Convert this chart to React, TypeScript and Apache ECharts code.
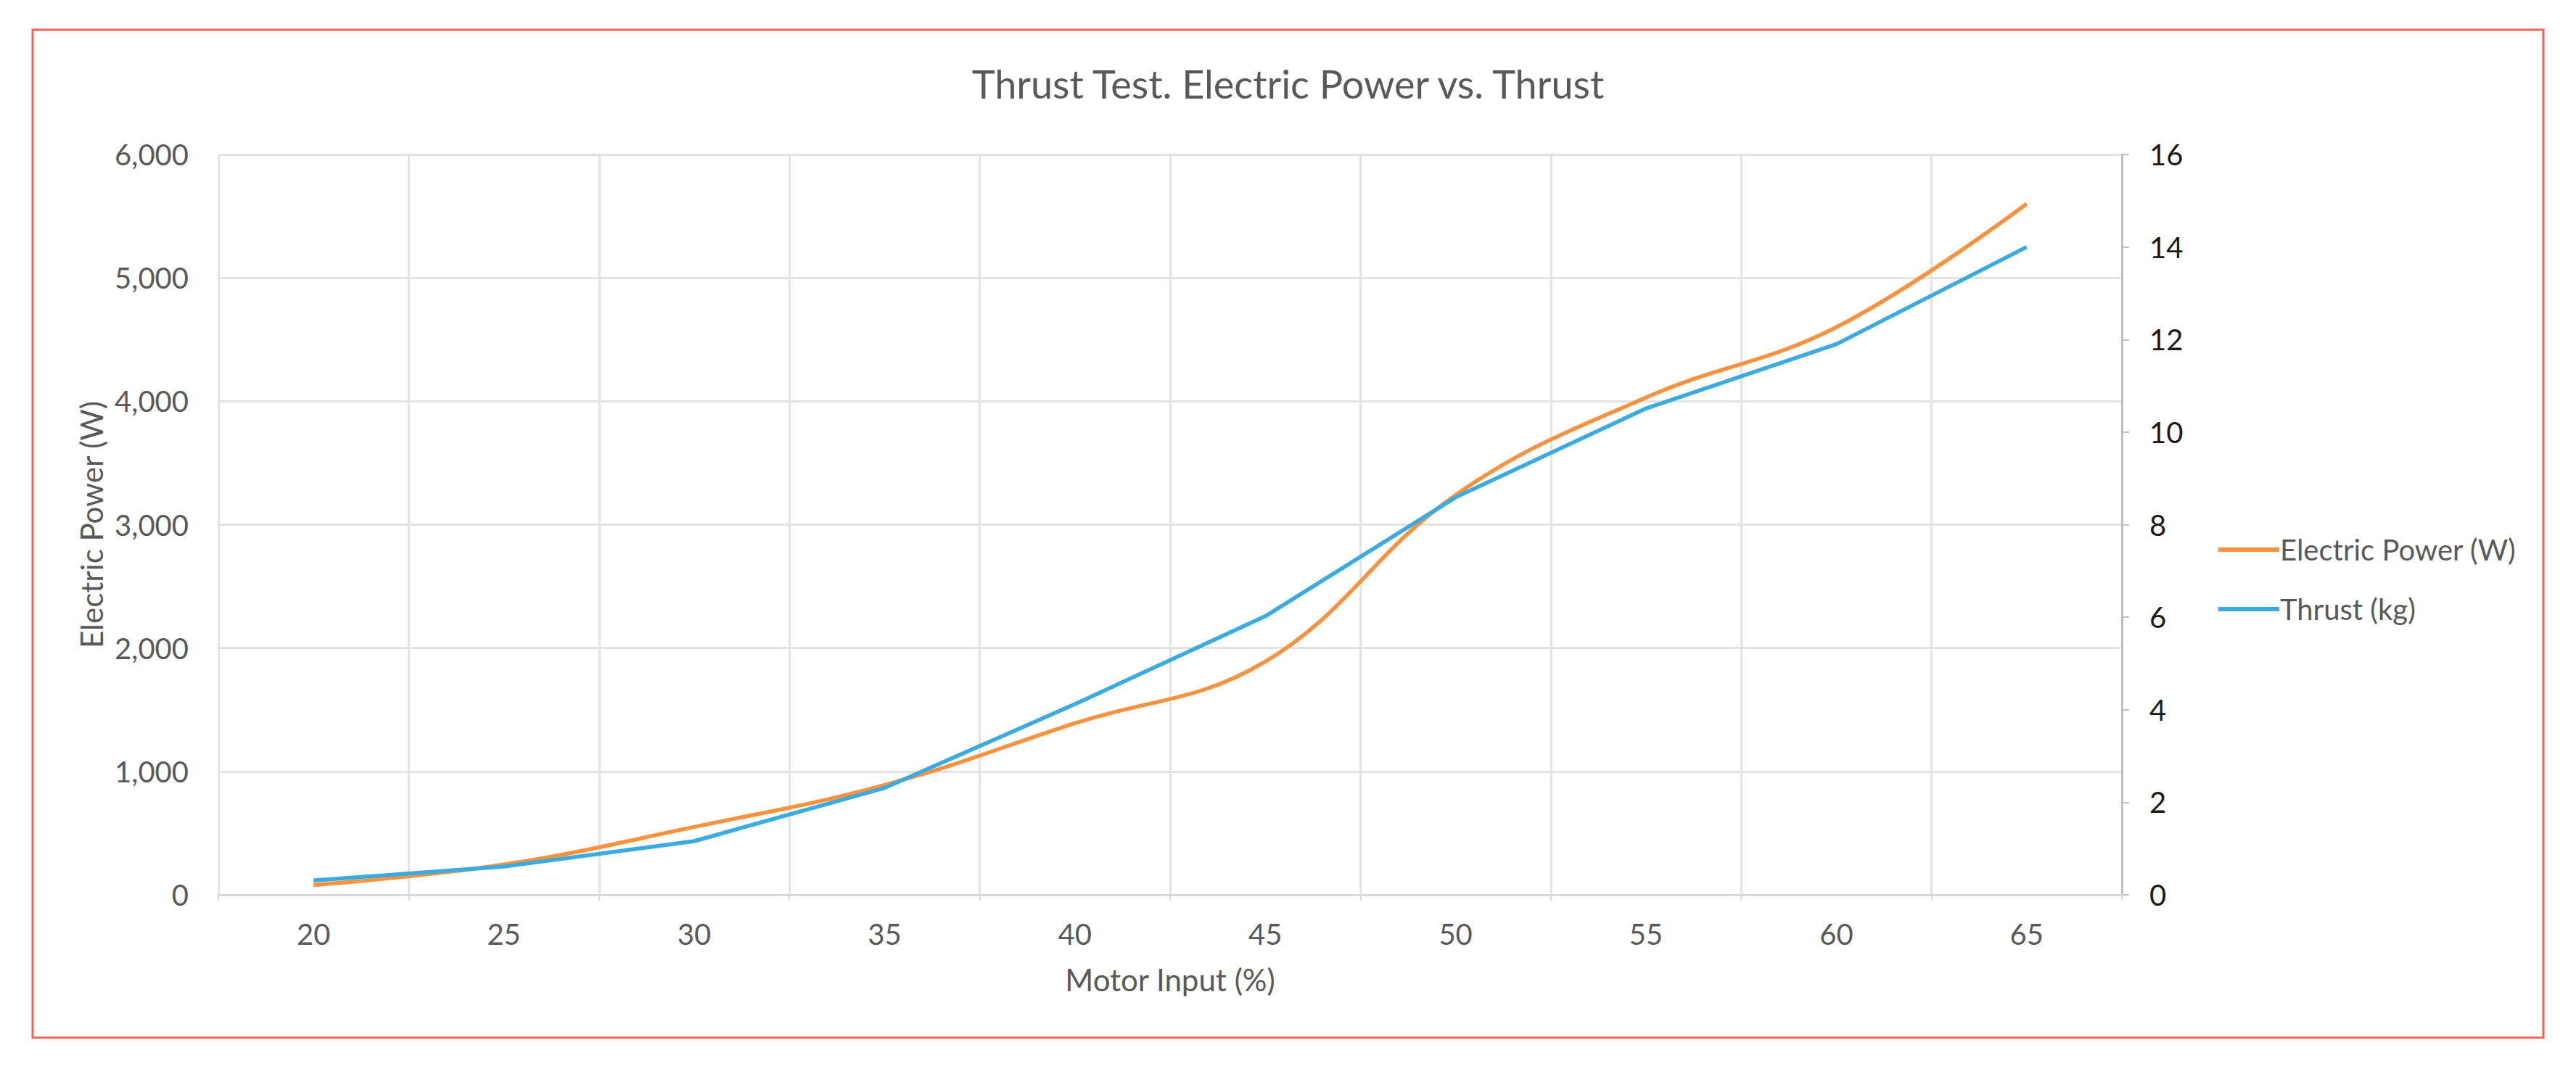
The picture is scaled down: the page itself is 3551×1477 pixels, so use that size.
import React, { useEffect, useRef } from "react";
import * as echarts from "echarts";

const categories = ["20", "25", "30", "35", "40", "45", "50", "55", "60", "65"];
const powerW = [80, 245, 550, 890, 1390, 1890, 3240, 4030, 4600, 5600];
const thrustKg = [0.31, 0.61, 1.16, 2.31, 4.12, 6.02, 8.59, 10.51, 11.9, 14.0];

const FONT = "Lato, 'Open Sans', sans-serif";
const GREY = "#595959";
const ORANGE = "#F8923F";
const BLUE = "#3AABE0";

export default function App() {
  const ref = useRef<HTMLDivElement>(null);
  useEffect(() => {
    if (!ref.current) return;
    const chart = echarts.init(ref.current, undefined, { renderer: "svg" });
    chart.setOption({
      animation: false,
      backgroundColor: "#ffffff",
      textStyle: { fontFamily: FONT },
      title: {
        text: "Thrust Test. Electric Power vs. Thrust",
        left: "center",
        top: 83,
        textStyle: { fontFamily: FONT, fontSize: 54, fontWeight: "normal", color: GREY },
      },
      graphic: [
        {
          type: "rect",
          shape: { x: 45, y: 41, width: 3461, height: 1390 },
          style: { fill: "none", stroke: "#F5614E", lineWidth: 3 },
          silent: true,
        },
      ],
      legend: {
        orient: "vertical",
        left: 3053,
        top: 733,
        icon: "rect",
        itemWidth: 84,
        itemHeight: 6,
        itemGap: 42,
        textStyle: { fontFamily: FONT, fontSize: 40, color: GREY, lineHeight: 40, padding: [0, 0, 0, -4] },
        data: ["Electric Power (W)", "Thrust (kg)"],
      },
      grid: { left: 301, right: 626, top: 213, bottom: 243, containLabel: false },
      xAxis: {
        type: "category",
        data: categories,
        boundaryGap: true,
        axisLine: { show: true, lineStyle: { color: "#d9d9d9", width: 3 } },
        axisTick: { show: true, length: 8, lineStyle: { color: "#d9d9d9", width: 2 } },
        splitLine: { show: true, lineStyle: { color: "#e3e3e3", width: 3 } },
        axisLabel: { fontFamily: FONT, fontSize: 40, color: GREY, margin: 34 },
        name: "Motor Input (%)",
        nameLocation: "middle",
        nameGap: 96,
        nameTextStyle: { fontFamily: FONT, fontSize: 42, color: GREY },
      },
      yAxis: [
        {
          type: "value",
          min: 0,
          max: 6000,
          interval: 1000,
          position: "left",
          axisLine: { show: false },
          axisTick: { show: false },
          splitLine: { show: true, lineStyle: { color: "#e3e3e3", width: 3 } },
          axisLabel: {
            fontFamily: FONT,
            fontSize: 40,
            color: GREY,
            margin: 41,
            formatter: (v: number) => v.toLocaleString("en-US"),
          },
          name: "Electric Power (W)",
          nameLocation: "middle",
          nameRotate: 90,
          nameGap: 148,
          nameTextStyle: { fontFamily: FONT, fontSize: 42, color: GREY },
        },
        {
          type: "value",
          min: 0,
          max: 16,
          interval: 2,
          position: "right",
          axisLine: { show: true, lineStyle: { color: "#bfbfbf", width: 3 } },
          axisTick: { show: true, length: 10, lineStyle: { color: "#bfbfbf", width: 2 } },
          splitLine: { show: false },
          axisLabel: { fontFamily: FONT, fontSize: 40, color: "#1a1a1a", margin: 38 },
        },
      ],
      series: [
        {
          name: "Electric Power (W)",
          type: "line",
          yAxisIndex: 0,
          data: powerW,
          smooth: 0.4,
          symbol: "none",
          lineStyle: { color: ORANGE, width: 5.5 },
          itemStyle: { color: ORANGE },
        },
        {
          name: "Thrust (kg)",
          type: "line",
          yAxisIndex: 1,
          data: thrustKg,
          smooth: false,
          symbol: "none",
          lineStyle: { color: BLUE, width: 5.5 },
          itemStyle: { color: BLUE },
        },
      ],
    });
    return () => chart.dispose();
  }, []);
  return (
    <div
      ref={ref}
      style={{ position: "fixed", left: 0, top: 0, width: 3551, height: 1477, background: "#fff" }}
    />
  );
}
